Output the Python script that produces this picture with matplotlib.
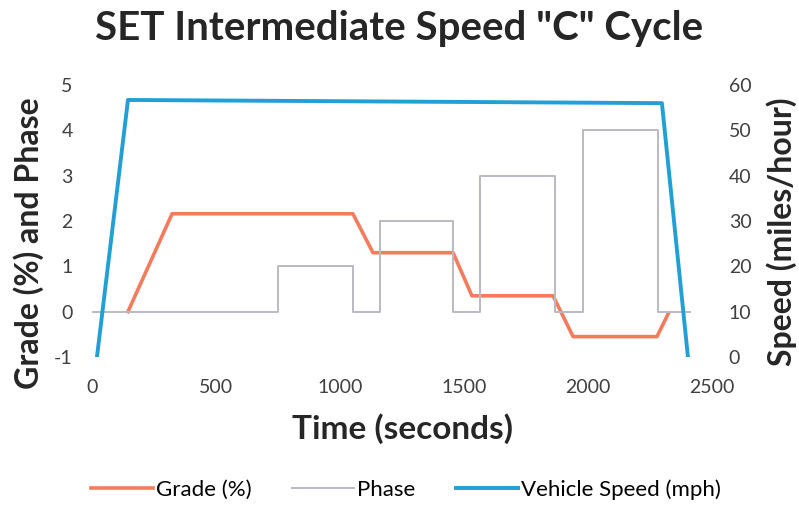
import matplotlib.pyplot as plt

# SET intermediate speed "C" cycle
grade_t = [145, 323, 1052, 1133, 1456, 1532, 1859, 1940, 2278, 2323]
grade = [0, 2.16, 2.16, 1.3, 1.3, 0.35, 0.35, -0.55, -0.55, -0.05]

phase_t = [0, 750, 750, 1052, 1052, 1161, 1161, 1456, 1456, 1565, 1565,
           1867, 1867, 1980, 1980, 2282, 2282, 2411]
phase = [0, 0, 1, 1, 0, 0, 2, 2, 0, 0, 3, 3, 0, 0, 4, 4, 0, 0]

speed_t = [20, 145, 2298, 2403]
speed = [0, 56.7, 56.0, 0]

x_ticks = [0, 500, 1000, 1500, 2000, 2500]
left_ticks = [-1, 0, 1, 2, 3, 4, 5]
right_ticks = [0, 10, 20, 30, 40, 50, 60]

plt.rcParams['font.family'] = ['Lato', 'DejaVu Sans']
plt.rcParams['axes.unicode_minus'] = False

fig = plt.figure(figsize=(7.99, 5.19), dpi=100)
ax = fig.add_axes([92 / 799, 1 - 357 / 519, 620 / 799, 272 / 519])
ax2 = ax.twinx()

l1, = ax.plot(grade_t, grade, color='#F47C5C', lw=2.6, label='Grade (%)')
l2, = ax.plot(phase_t, phase, color='#B9BAC4', lw=1.4, label='Phase')
l3, = ax2.plot(speed_t, speed, color='#22A0D6', lw=2.8, label='Vehicle Speed (mph)')

ax.set_xlim(0, 2500)
ax.set_ylim(-1, 5)
ax2.set_ylim(0, 60)
ax.set_xticks(x_ticks)
ax.set_yticks(left_ticks)
ax2.set_yticks(right_ticks)

for a in (ax, ax2):
    for s in a.spines.values():
        s.set_visible(False)
    a.tick_params(length=0, labelsize=14, colors='#404040')
ax.tick_params(axis='x', pad=16)
ax.tick_params(axis='y', pad=14)
ax2.tick_params(axis='y', pad=12)

ax.set_xlabel('Time (seconds)', fontsize=24, fontweight='bold', color='#262626', labelpad=12)
ax.set_ylabel('Grade (%) and Phase', fontsize=23, fontweight='bold', color='#262626')
ax2.set_ylabel('Speed (miles/hour)', fontsize=23, fontweight='bold', color='#262626')
ax.yaxis.set_label_coords(-0.077, 0.42)
ax2.yaxis.set_label_coords(1.087, 0.46)

fig.suptitle('SET Intermediate Speed "C" Cycle', fontsize=29, fontweight='bold',
             color='#262626', x=0.5, y=0.98)

fig.legend(handles=[l1, l2, l3], loc='center', bbox_to_anchor=(0.508, 0.056),
           ncol=3, frameon=False, fontsize=16, handlelength=2.8, columnspacing=1.8,
           handletextpad=0.15)

plt.savefig('out.png', dpi=100)
plt.close()
